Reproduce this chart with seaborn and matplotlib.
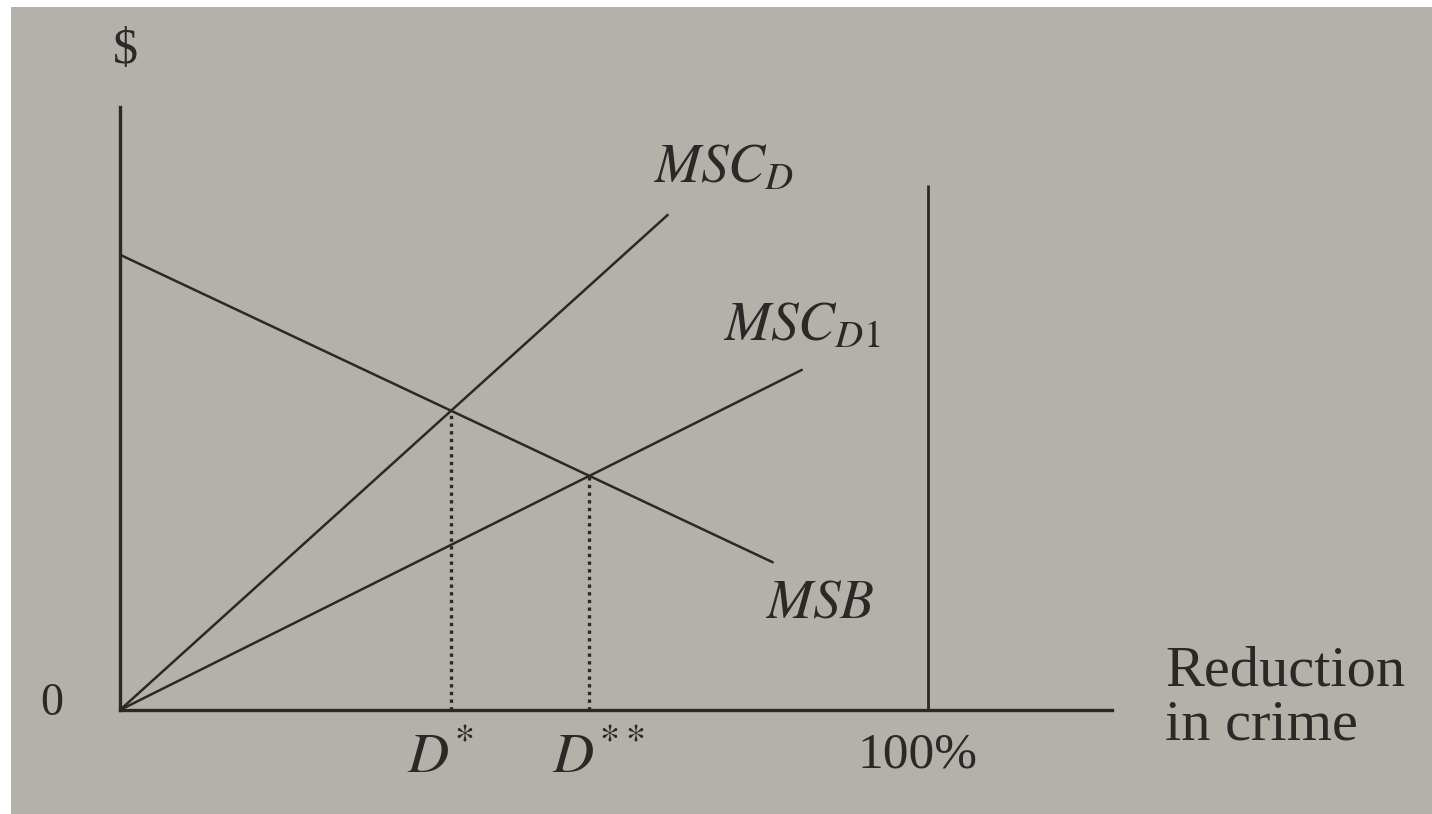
import numpy as np
import pandas as pd
import matplotlib
matplotlib.use('Agg')
import matplotlib.pyplot as plt
from matplotlib.patches import Rectangle
import seaborn as sns

# curve end points (x = % reduction in crime, y = $)
msb_x   = [0.0, 80.8]
msb_y   = [75.5, 24.5]
mscd_x  = [0.0, 67.8]
mscd_y  = [0.0, 82.1]
mscd1_x = [0.0, 84.4]
mscd1_y = [0.0, 56.4]

# optimum points (intersections with MSB)
d_x = [41.0, 58.1]
d_y = [49.6, 38.8]
d_labels = [r'$D^{*}$', r'$D^{**}$']

full_x   = 100.0     # 100% reduction
full_top = 87.1
x_end    = 122.8
y_end    = 100.0

W, H = 1432, 814
sns.set_theme(style='white')
plt.rcParams['font.family'] = ['Liberation Serif', 'DejaVu Serif']
plt.rcParams['mathtext.fontset'] = 'stix'

ink = '#2a2927'
paper = '#b4b1aa'

fig = plt.figure(figsize=(W/100, H/100), dpi=100)
fig.patch.set_facecolor('white')
fig.add_artist(Rectangle((11/W, 0), 1 - 11/W, 1 - 7/H, transform=fig.transFigure,
                         facecolor=paper, edgecolor='none', zorder=0))

def fx(px):
    return px / W

def fy(py):
    return 1 - py / H

# axes: origin at pixel (120,710), top of y axis at 107, end of x axis at 1112
ax = fig.add_axes([fx(120), fy(710), (1112 - 120) / W, (710 - 107) / H])
ax.set_facecolor('none')
ax.set_xlim(0, x_end)
ax.set_ylim(0, y_end)
ax.set_xticks([])
ax.set_yticks([])
for s in ['top', 'right']:
    ax.spines[s].set_visible(False)
for s in ['left', 'bottom']:
    ax.spines[s].set_color(ink)
    ax.spines[s].set_linewidth(2.4)

lw = 1.8
sns.lineplot(x=msb_x, y=msb_y, ax=ax, color=ink, lw=lw)
sns.lineplot(x=mscd_x, y=mscd_y, ax=ax, color=ink, lw=lw)
sns.lineplot(x=mscd1_x, y=mscd1_y, ax=ax, color=ink, lw=lw)

ax.vlines(full_x, 0, full_top, color=ink, lw=2.0)
ax.vlines(d_x, 0, d_y, color=ink, lw=2.4, linestyles=[(0, (1, 1.3))])

# labels
tk = dict(color=ink)
fig.text(fx(125), fy(51), '$', fontsize=36, ha='center', va='center', **tk)
fig.text(fx(52), fy(704), '0', fontsize=33, ha='center', va='center', **tk)
fig.text(fx(653), fy(182), r'$MSC_{D}$', fontsize=40, ha='left', va='baseline', **tk)
fig.text(fx(723), fy(340), r'$MSC_{D1}$', fontsize=40, ha='left', va='baseline', **tk)
fig.text(fx(765), fy(618), r'$MSB$', fontsize=40, ha='left', va='baseline', **tk)
for lab, left in zip(d_labels, [407, 552]):
    fig.text(fx(left), fy(773), lab, fontsize=41, ha='left', va='baseline', **tk)
fig.text(fx(858), fy(767), '100%', fontsize=37, ha='left', va='baseline', **tk)
fig.text(fx(1165), fy(685), 'Reduction', fontsize=42, ha='left', va='baseline', **tk)
fig.text(fx(1165), fy(740), 'in crime', fontsize=42, ha='left', va='baseline', **tk)

fig.savefig('out.png', dpi=100)
